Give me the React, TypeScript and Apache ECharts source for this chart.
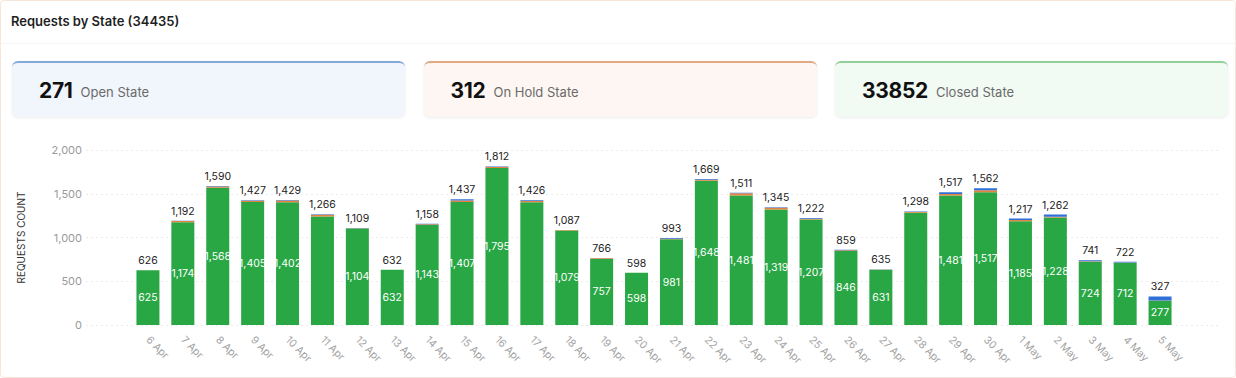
import React, { useEffect, useRef } from "react";
import * as echarts from "echarts";

const categories = ["6 Apr","7 Apr","8 Apr","9 Apr","10 Apr","11 Apr","12 Apr","13 Apr","14 Apr","15 Apr","16 Apr","17 Apr","18 Apr","19 Apr","20 Apr","21 Apr","22 Apr","23 Apr","24 Apr","25 Apr","26 Apr","27 Apr","28 Apr","29 Apr","30 Apr","1 May","2 May","3 May","4 May","5 May"];
const closedValues = [625,1174,1568,1405,1402,1240,1104,632,1143,1407,1795,1404,1079,757,598,981,1648,1481,1319,1207,846,631,1282,1481,1517,1185,1228,724,712,277];
const onHoldValues = [0,14,16,16,22,20,2,0,8,16,12,14,6,8,0,4,12,24,20,6,8,2,10,16,22,16,8,4,2,4];
const openValues = [1,4,6,6,5,6,3,0,7,14,5,8,2,1,0,8,9,6,6,9,5,2,6,20,23,16,26,13,8,46];
const totalValues = [626,1192,1590,1427,1429,1266,1109,632,1158,1437,1812,1426,1087,766,598,993,1669,1511,1345,1222,859,635,1298,1517,1562,1217,1262,741,722,327];
const hiddenInnerLabels = ["11 Apr","17 Apr","28 Apr"];
const yTicks = [0, 500, 1000, 1500, 2000];
const summary = [
  { value: 271, label: "Open State", border: "#86a9dc", bg: "#f1f5fc" },
  { value: 312, label: "On Hold State", border: "#e2a882", bg: "#fdf6f2" },
  { value: 33852, label: "Closed State", border: "#93cf98", bg: "#f1faf3" },
];
const grandTotal = 34435;

const FONT = "Inter, 'Open Sans', sans-serif";

export default function App() {
  const ref = useRef<HTMLDivElement>(null);
  useEffect(() => {
    if (!ref.current) return;
    const chart = echarts.init(ref.current, undefined, { renderer: "svg" });
    const yMax = yTicks[yTicks.length - 1];
    const interval = yTicks[1] - yTicks[0];
    chart.setOption({
      animation: false,
      textStyle: { fontFamily: FONT },
      grid: [
        { left: 129.5, right: 59.5, top: 19, bottom: 54 },
        { left: 85, right: 18, top: 19, bottom: 54 },
      ],
      xAxis: [
        {
          type: "category",
          gridIndex: 0,
          data: categories,
          axisLine: { show: false },
          axisTick: { show: false },
          axisLabel: { rotate: -45, color: "#a3a3a3", fontSize: 10.5, margin: 13, interval: 0 },
        },
        { type: "value", gridIndex: 1, show: false, min: 0, max: 1 },
      ],
      yAxis: [
        {
          type: "value",
          gridIndex: 0,
          min: 0,
          max: yMax,
          interval,
          show: false,
        },
        {
          type: "value",
          gridIndex: 1,
          min: 0,
          max: yMax,
          interval,
          name: "REQUESTS COUNT",
          nameLocation: "middle",
          nameGap: 60,
          nameTextStyle: { color: "#333", fontSize: 10 },
          axisLine: { show: false },
          axisTick: { show: false },
          axisLabel: {
            color: "#9a9a9a",
            fontSize: 11,
            margin: 4,
            formatter: (v: number) => v.toLocaleString("en-US"),
          },
          splitLine: { lineStyle: { color: "#ececec", type: [2, 3] } },
        },
      ],
      series: [
        {
          name: "Closed",
          type: "bar",
          stack: "s",
          barWidth: 23,
          itemStyle: { color: "#29a744" },
          data: closedValues.map((v, i) =>
            hiddenInnerLabels.includes(categories[i]) ? { value: v, label: { show: false } } : v
          ),
          label: {
            show: true,
            position: "inside",
            color: "#ffffff",
            fontSize: 10.5,
            formatter: (p: any) => Number(p.value).toLocaleString("en-US"),
          },
        },
        {
          name: "On Hold",
          type: "bar",
          stack: "s",
          barWidth: 23,
          itemStyle: { color: "#e2843f" },
          data: onHoldValues,
        },
        {
          name: "Open",
          type: "bar",
          stack: "s",
          barWidth: 23,
          itemStyle: { color: "#2f6fd9" },
          data: openValues,
          label: {
            show: true,
            position: "top",
            distance: 4,
            color: "#222",
            fontSize: 10.5,
            formatter: (p: any) => totalValues[p.dataIndex].toLocaleString("en-US"),
          },
        },
      ],
    });
    return () => chart.dispose();
  }, []);

  return (
    <div
      style={{
        position: "fixed",
        left: 0,
        top: 0,
        width: 1236,
        height: 378,
        boxSizing: "border-box",
        border: "1px solid #f8e6da",
        borderRadius: 4,
        background: "#fff",
        fontFamily: FONT,
        overflow: "hidden",
      }}
    >
      <div
        style={{
          position: "absolute",
          left: 10,
          top: 12,
          fontSize: 13,
          fontWeight: 600,
          color: "#1f1f1f",
        }}
      >
        Requests by State ({grandTotal})
      </div>
      <div style={{ position: "absolute", left: 0, right: 0, top: 42, height: 1, background: "#f4f4f4" }} />
      {summary.map((s, i) => (
        <div
          key={s.label}
          style={{
            position: "absolute",
            left: 11 + i * 411.5,
            top: 60,
            width: 393,
            height: 56,
            boxSizing: "border-box",
            background: s.bg,
            borderTop: `2px solid ${s.border}`,
            borderRadius: 6,
            boxShadow: "0 1px 3px rgba(0,0,0,0.08)",
            display: "flex",
            alignItems: "center",
            paddingLeft: 27,
          }}
        >
          <span style={{ fontSize: 21, fontWeight: 700, color: "#111", letterSpacing: -0.3 }}>{s.value}</span>
          <span style={{ fontSize: 13, color: "#6b6b6b", marginLeft: 8, marginTop: 4 }}>{s.label}</span>
        </div>
      ))}
      <div ref={ref} style={{ position: "absolute", left: 0, top: 130, width: 1236, height: 248 }} />
    </div>
  );
}
